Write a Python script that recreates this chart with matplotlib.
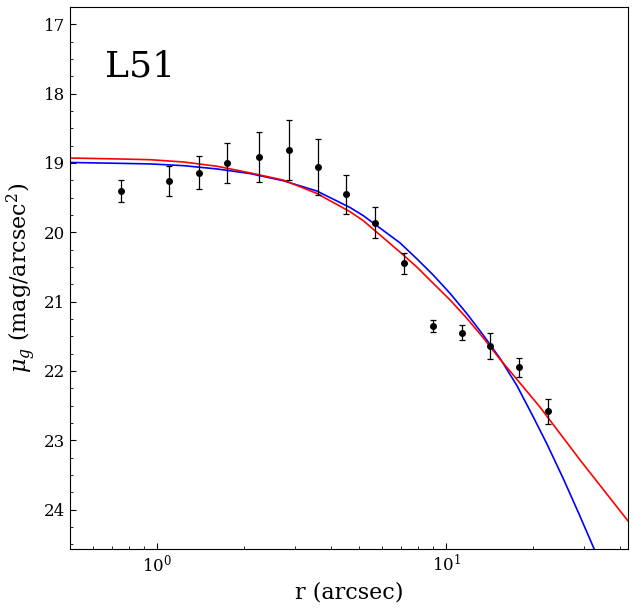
import numpy as np
import matplotlib
matplotlib.use('Agg')
import matplotlib.pyplot as plt

plt.rcParams['font.family'] = ['DejaVu Serif']
plt.rcParams['mathtext.fontset'] = 'dejavuserif'

# dados observados (perfil de brilho superficial)
raio = [0.75, 1.10, 1.40, 1.75, 2.26, 2.86, 3.61, 4.51, 5.69, 7.17, 8.99, 11.33, 14.16, 17.94, 22.59]
mu = [19.41, 19.26, 19.14, 19.00, 18.92, 18.81, 19.06, 19.45, 19.86, 20.45, 21.35, 21.45, 21.64, 21.95, 22.58]
erro = [0.16, 0.21, 0.24, 0.29, 0.36, 0.43, 0.40, 0.28, 0.23, 0.15, 0.09, 0.11, 0.19, 0.14, 0.18]

# curva azul (ajuste 1)
raio_azul = [0.5, 0.688, 0.946, 1.233, 1.609, 2.098, 2.735, 3.569, 4.655, 5.174, 6.930,
             7.917, 9.039, 10.32, 11.79, 13.46, 15.38, 17.56, 20.05, 22.31, 25.46,
             29.09, 32.78]
mu_azul = [18.993, 19.003, 19.014, 19.039, 19.086, 19.153, 19.257, 19.404, 19.643, 19.761,
           20.153, 20.381, 20.619, 20.881, 21.171, 21.486, 21.821, 22.207, 22.667, 23.050,
           23.557, 24.100, 24.600]

# curva vermelha (ajuste 2)
raio_verm = [0.5, 0.688, 0.946, 1.233, 1.609, 2.098, 2.735, 3.569, 4.655, 5.174, 6.930,
             7.917, 9.039, 10.32, 11.79, 13.46, 15.38, 17.56, 21.15, 29.09, 37.98, 42.65]
mu_verm = [18.929, 18.940, 18.953, 18.986, 19.047, 19.143, 19.247, 19.439, 19.704, 19.833,
           20.286, 20.500, 20.739, 20.976, 21.239, 21.524, 21.833, 22.119, 22.524, 23.286,
           23.900, 24.167]

fig = plt.figure(figsize=(6.34, 6.08), dpi=100)
ax = fig.add_axes([0.1104, 0.097, 0.8801, 0.8915])

ax.plot(raio_azul, mu_azul, color='blue', lw=1.2)
ax.plot(raio_verm, mu_verm, color='red', lw=1.2)
ax.errorbar(raio, mu, yerr=erro, fmt='o', color='black', ms=4,
            elinewidth=0.9, capsize=2.2, capthick=0.9)

ax.set_xscale('log')
ax.set_xlim(0.5, 42.6)
ax.set_ylim(24.57, 16.81)
ax.set_yticks([17, 18, 19, 20, 21, 22, 23, 24])
ax.set_yticks(np.arange(16.75, 24.6, 0.25), minor=True)

ax.tick_params(which='both', direction='in', labelsize=12)
ax.tick_params(which='major', length=4)
ax.tick_params(which='minor', length=2.5)

ax.set_xlabel('r (arcsec)', fontsize=16)
ax.set_ylabel(r'$\mu_g$ (mag/arcsec$^2$)', fontsize=16)

ax.text(0.063, 0.89, 'L51', transform=ax.transAxes, fontsize=26,
        ha='left', va='center')

fig.savefig('out.png', dpi=100)
